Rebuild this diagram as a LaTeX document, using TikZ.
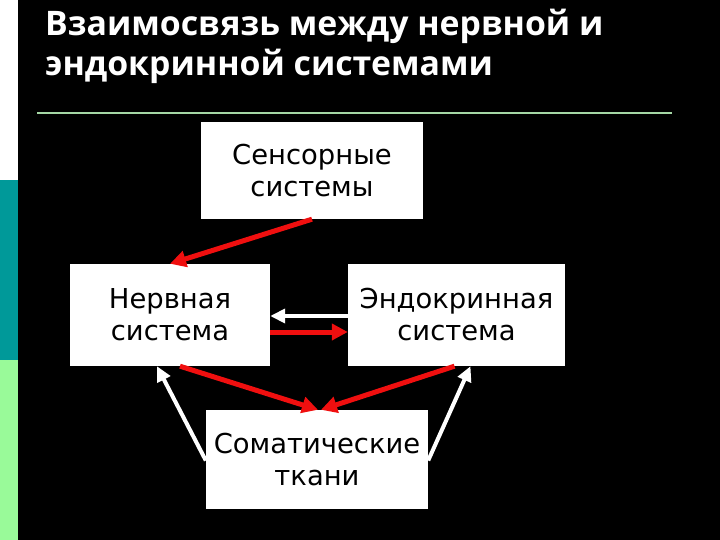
\documentclass[tikz,border=0pt]{standalone}
\usepackage{fontspec}
\setmainfont{DejaVu Sans}
\newfontfamily\titlefont{Open Sans}
\usetikzlibrary{arrows.meta}
\definecolor{tealbar}{RGB}{0,153,153}
\definecolor{greenbar}{RGB}{153,250,153}
\definecolor{rule}{RGB}{165,215,165}
\definecolor{arrred}{RGB}{240,15,15}
\tikzset{
  box/.style={fill=white, draw=none, inner sep=0pt, align=center, font=\fontsize{27.4}{32}\selectfont, text=black},
  redarr/.style={draw=arrred, line width=5pt, -{Triangle[length=16pt,width=16pt]}},
  whitearr/.style={draw=white, line width=4pt, -{Triangle[length=15pt,width=14pt]}},
  titletext/.style={anchor=base west, text=white, font=\titlefont\bfseries\fontsize{33.8}{40}\selectfont, inner sep=0pt},
}
\begin{document}
\begin{tikzpicture}[x=1pt,y=-1pt]
\fill[black] (0,0) rectangle (720,540);
\useasboundingbox (0,0) rectangle (720,540);
\fill[white] (0,0) rectangle (18,180);
\fill[tealbar] (0,180) rectangle (18,360);
\fill[greenbar] (0,360) rectangle (18,540);
\node[titletext] (t1) at (45,36) {Взаимосвязь между нервной и};
\node[titletext] (t2) at (45,76) {эндокринной системами};
\draw[rule, line width=2pt] (37,113) -- (672,113);
\node[box, minimum width=222pt, minimum height=97pt] (sens) at (312,170.5) {Сенсорные\\системы};
\node[box, minimum width=200pt, minimum height=102pt] (nerv) at (170,315) {Нервная\\система};
\node[box, minimum width=217pt, minimum height=102pt] (endo) at (456.5,315) {Эндокринная\\система};
\node[box, minimum width=222pt, minimum height=99pt] (soma) at (317,459.5) {Соматические\\ткани};
\draw[redarr] (sens.south) -- (nerv.north);
\draw[whitearr] ([yshift=-1pt]endo.west) -- ([yshift=-1pt]nerv.east);
\draw[redarr] ([yshift=-17pt]nerv.east) -- ([yshift=-17pt]endo.west);
\draw[redarr] ([xshift=10pt]nerv.south) -- ([xshift=1pt]soma.north);
\draw[redarr] ([xshift=-2pt]endo.south) -- ([xshift=4pt]soma.north);
\draw[whitearr] ([yshift=-1pt]soma.west) -- ([xshift=-13pt]nerv.south);
\draw[whitearr] ([yshift=-1pt]soma.east) -- ([xshift=14pt]endo.south);
\end{tikzpicture}
\end{document}
